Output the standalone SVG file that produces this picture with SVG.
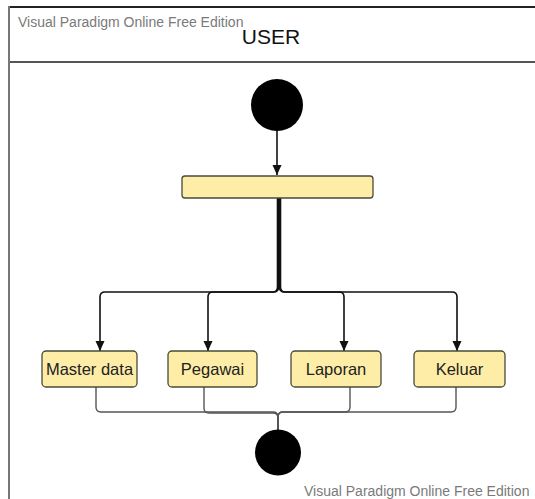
<svg xmlns="http://www.w3.org/2000/svg" width="535" height="499" viewBox="0 0 535 499">
<style>
.wm{font-family:"Liberation Sans",Arial,sans-serif;fill:#7a7a7a}
.lbl{font-family:"Liberation Sans",Arial,sans-serif;font-size:16.5px;fill:#222;text-anchor:middle}
.box{fill:#FDEDA6;stroke:#4a4a3a;stroke-width:1.3}
.top{fill:none;stroke:#111;stroke-width:1.6}
.bot{fill:none;stroke:#555;stroke-width:1.4}
</style>
<defs>
<marker id="ah" markerWidth="10" markerHeight="10" viewBox="0 0 10 10" refX="10" refY="5" orient="auto" markerUnits="userSpaceOnUse">
<path d="M0,0.5 L10,5 L0,9.5 Z" fill="#111"/>
</marker>
</defs>
<rect width="535" height="499" fill="#fff"/>
<g id="frame">
<line x1="9" y1="7" x2="535" y2="7" stroke="#222" stroke-width="2"/>
<line x1="9" y1="62" x2="535" y2="62" stroke="#555" stroke-width="2"/>
<line x1="9" y1="6" x2="9" y2="499" stroke="#777" stroke-width="2"/>
<text class="wm" x="18" y="27" font-size="14">Visual Paradigm Online Free Edition</text>
<text x="271" y="44" font-family="'Liberation Sans',Arial,sans-serif" font-size="21" fill="#111" text-anchor="middle">USER</text>
</g>
<g id="connectors">
<path class="top" d="M277 131 V175" marker-end="url(#ah)"/>
<path class="top" d="M277.5 198 V287 Q277.5 292 272.5 292 H105 Q100 292 100 297 V351" marker-end="url(#ah)"/>
<path class="top" d="M278.5 198 V287 Q278.5 292 273.5 292 H213 Q208 292 208 297 V351" marker-end="url(#ah)"/>
<path class="top" d="M279.5 198 V287 Q279.5 292 284.5 292 H339 Q344 292 344 297 V351" marker-end="url(#ah)"/>
<path class="top" d="M280.5 198 V287 Q280.5 292 285.5 292 H452 Q457 292 457 297 V351" marker-end="url(#ah)"/>
<path class="bot" d="M96 387 V407 Q96 412 101 412 H273 Q278 412 278 417 V430"/>
<path class="bot" d="M204 387 V408 Q204 413 209 413 H273 Q278 413 278 418 V430"/>
<path class="bot" d="M350 387 V407 Q350 412 345 412 H283 Q278 412 278 417 V430"/>
<path class="bot" d="M456 387 V407 Q456 412 451 412 H283 Q278 412 278 417 V430"/>
</g>
<g id="start"><circle cx="277" cy="105" r="26" fill="#000"/></g>
<g id="fork"><rect class="box" x="182" y="176" width="191" height="22" rx="3"/></g>
<g id="master-data"><rect class="box" x="42" y="351" width="95" height="36" rx="4"/><text class="lbl" x="89.5" y="375">Master data</text></g>
<g id="pegawai"><rect class="box" x="168" y="351" width="89" height="36" rx="4"/><text class="lbl" x="212.5" y="375">Pegawai</text></g>
<g id="laporan"><rect class="box" x="291" y="351" width="90" height="36" rx="4"/><text class="lbl" x="336" y="375">Laporan</text></g>
<g id="keluar"><rect class="box" x="414" y="351" width="91" height="36" rx="4"/><text class="lbl" x="459.5" y="375">Keluar</text></g>
<g id="end"><circle cx="278" cy="452.5" r="23" fill="#000"/></g>
<text class="wm" x="304" y="496" font-size="14">Visual Paradigm Online Free Edition</text>
</svg>
